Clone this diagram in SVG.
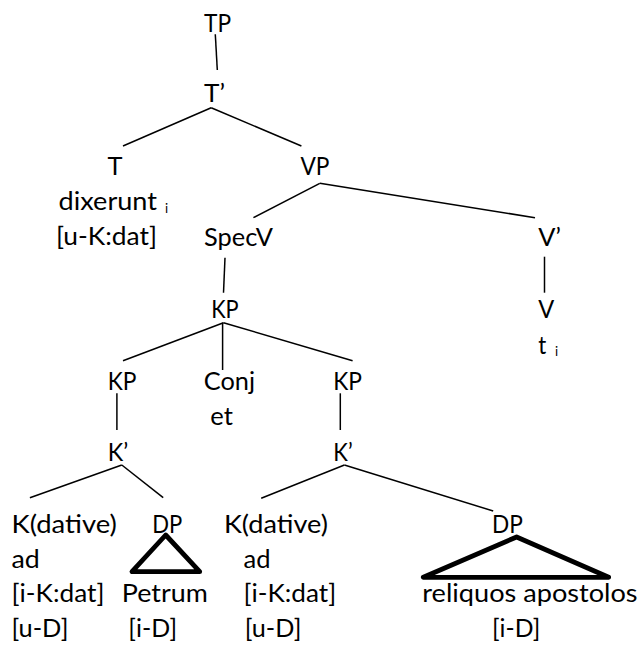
<svg xmlns="http://www.w3.org/2000/svg" width="643" height="645" viewBox="0 0 643 645">
<style>
text{font-family:Lato,"Liberation Sans",sans-serif;font-size:25px;fill:#000}
.sub{font-size:13px}
.ln{stroke:#000;stroke-width:1.5;fill:none}
.tri{stroke:#000;stroke-width:4.8;fill:none;stroke-linejoin:round}
</style>
<rect width="643" height="645" fill="#fff"/>
<g id="connectors">
<line class="ln" x1="215.3" y1="34.3" x2="217.3" y2="70"/>
<line class="ln" x1="211.2" y1="107.7" x2="123" y2="146"/>
<line class="ln" x1="211.2" y1="107.7" x2="301.4" y2="146"/>
<line class="ln" x1="319.8" y1="183.3" x2="253.4" y2="217.7"/>
<line class="ln" x1="319.8" y1="183.3" x2="535" y2="217.7"/>
<line class="ln" x1="225" y1="257.7" x2="223.5" y2="292.7"/>
<line class="ln" x1="544.5" y1="256.7" x2="544.5" y2="292.7"/>
<line class="ln" x1="223.5" y1="322.7" x2="123" y2="360.7"/>
<line class="ln" x1="222.6" y1="322.7" x2="222.6" y2="370"/>
<line class="ln" x1="223.5" y1="322.7" x2="352.6" y2="360.7"/>
<line class="ln" x1="116.9" y1="393.3" x2="116.9" y2="430"/>
<line class="ln" x1="340.3" y1="393.3" x2="340.3" y2="430"/>
<line class="ln" x1="121.8" y1="465" x2="29.9" y2="497.7"/>
<line class="ln" x1="121.8" y1="465" x2="163.2" y2="497.7"/>
<line class="ln" x1="344.4" y1="465" x2="261.2" y2="498.3"/>
<line class="ln" x1="344.4" y1="465" x2="493.2" y2="511"/>
<polygon class="tri" points="165.7,535 132,571.7 199.7,571.7"/>
<polygon class="tri" points="516.6,537 423.3,577.3 608.7,577.3"/>
</g>
<g id="TP"><text x="204" y="32" textLength="27" lengthAdjust="spacingAndGlyphs">TP</text></g>
<g id="Tbar"><text x="204" y="102" textLength="21" lengthAdjust="spacingAndGlyphs">T’</text></g>
<g id="T">
<text x="107.5" y="175" textLength="15" lengthAdjust="spacingAndGlyphs">T</text>
<text x="58.6" y="209.5" textLength="98.4" lengthAdjust="spacingAndGlyphs">dixerunt</text>
<text class="sub" x="165" y="213">i</text>
<text x="56" y="245" textLength="101" lengthAdjust="spacingAndGlyphs">[u-K:dat]</text>
</g>
<g id="VP"><text x="300.5" y="175" textLength="29" lengthAdjust="spacingAndGlyphs">VP</text></g>
<g id="SpecV"><text x="204" y="245.7" textLength="69" lengthAdjust="spacingAndGlyphs">SpecV</text></g>
<g id="Vbar"><text x="538.3" y="245.7" textLength="22.6" lengthAdjust="spacingAndGlyphs">V’</text></g>
<g id="KP"><text x="211.2" y="317.7" textLength="27.4" lengthAdjust="spacingAndGlyphs">KP</text></g>
<g id="V">
<text x="538.3" y="317.7" textLength="16" lengthAdjust="spacingAndGlyphs">V</text>
<text x="538.3" y="354" textLength="8" lengthAdjust="spacingAndGlyphs">t</text>
<text class="sub" x="555" y="356">i</text>
</g>
<g id="KP1"><text x="107.8" y="390" textLength="28.7" lengthAdjust="spacingAndGlyphs">KP</text></g>
<g id="Conj">
<text x="203.8" y="390" textLength="51.2" lengthAdjust="spacingAndGlyphs">Conj</text>
<text x="210.3" y="425" textLength="22.6" lengthAdjust="spacingAndGlyphs">et</text>
</g>
<g id="KP2"><text x="333.3" y="390" textLength="28.7" lengthAdjust="spacingAndGlyphs">KP</text></g>
<g id="Kbar1"><text x="107.8" y="461" textLength="20.5" lengthAdjust="spacingAndGlyphs">K’</text></g>
<g id="Kbar2"><text x="333.3" y="461" textLength="19.3" lengthAdjust="spacingAndGlyphs">K’</text></g>
<g id="K1">
<text x="11.5" y="533" textLength="105.4" lengthAdjust="spacingAndGlyphs">K(dative)</text>
<text x="11.5" y="568" textLength="28.3" lengthAdjust="spacingAndGlyphs">ad</text>
<text x="11.5" y="602" textLength="93" lengthAdjust="spacingAndGlyphs">[i-K:dat]</text>
<text x="11.5" y="637" textLength="57" lengthAdjust="spacingAndGlyphs">[u-D]</text>
</g>
<g id="DP1">
<text x="152.3" y="533" textLength="30" lengthAdjust="spacingAndGlyphs">DP</text>
<text x="121.8" y="602" textLength="86" lengthAdjust="spacingAndGlyphs">Petrum</text>
<text x="128.3" y="637" textLength="48.8" lengthAdjust="spacingAndGlyphs">[i-D]</text>
</g>
<g id="K2">
<text x="223.9" y="533" textLength="104" lengthAdjust="spacingAndGlyphs">K(dative)</text>
<text x="243.5" y="568" textLength="27" lengthAdjust="spacingAndGlyphs">ad</text>
<text x="243.5" y="602" textLength="92.7" lengthAdjust="spacingAndGlyphs">[i-K:dat]</text>
<text x="244.8" y="637" textLength="56.6" lengthAdjust="spacingAndGlyphs">[u-D]</text>
</g>
<g id="DP2">
<text x="492" y="533" textLength="30.8" lengthAdjust="spacingAndGlyphs">DP</text>
<text x="422.3" y="602" textLength="215.3" lengthAdjust="spacingAndGlyphs">reliquos apostolos</text>
<text x="492" y="637" textLength="48.4" lengthAdjust="spacingAndGlyphs">[i-D]</text>
</g>
</svg>
